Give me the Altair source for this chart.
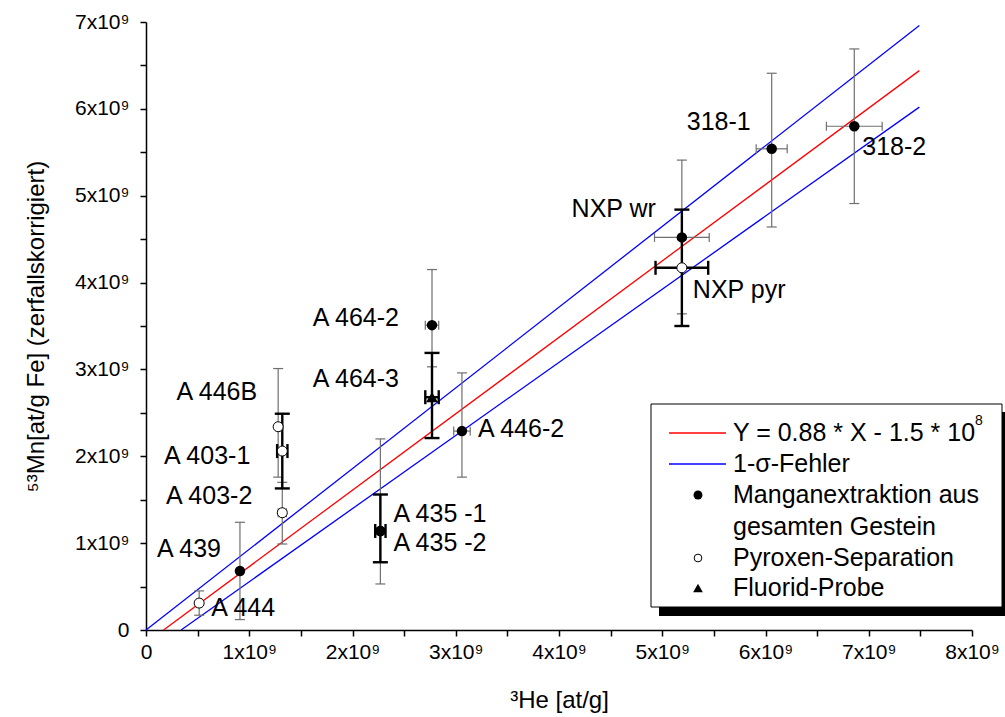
import altair as alt
import pandas as pd

# --- measured samples (values in units of 10^9 at/g) ---
samples = ["A 444", "A 439", "A 446B", "A 403-1", "A 403-2", "A 464-2", "A 464-3",
           "A 446-2", "A 435 -1", "A 435 -2", "NXP wr", "NXP pyr", "318-1", "318-2"]
probe = ["Pyroxen", "Gestein", "Pyroxen", "Pyroxen", "Pyroxen", "Gestein", "Fluorid",
         "Gestein", "Gestein", "Gestein", "Gestein", "Pyroxen", "Gestein", "Gestein"]
he3 = [0.515, 0.91, 1.28, 1.32, 1.32, 2.77, 2.77, 3.06, 2.27, 2.27, 5.19, 5.19, 6.06, 6.86]
he3_err = [0.025, 0.0, 0.02, 0.05, 0.04, 0.065, 0.065, 0.08, 0.05, 0.0, 0.265, 0.255, 0.15, 0.27]
mn53 = [0.31, 0.68, 2.34, 2.06, 1.35, 3.51, 2.68, 2.29, 1.14, 1.14, 4.52, 4.17, 5.54, 5.80]
mn53_lo = [0.17, 0.12, 1.76, 1.63, 0.99, 3.03, 2.21, 1.76, 0.78, 0.53, 3.64, 3.50, 4.64, 4.91]
mn53_hi = [0.45, 1.24, 3.01, 2.49, 1.70, 4.15, 3.19, 2.96, 1.56, 2.20, 5.41, 4.84, 6.41, 6.69]
# error set: 1 = bold bars, 2 = thin bars
err_set = [2, 2, 2, 1, 2, 2, 1, 2, 1, 2, 2, 1, 2, 2]

# --- regression line and 1-sigma band (end points, 10^9 at/g) ---
fit_names = ["fit", "sigma_oben", "sigma_unten"]
fit_x0 = [0.17, 0.0, 0.34]
fit_y0 = [0.0, 0.0, 0.0]
fit_x1 = [7.49, 7.49, 7.49]
fit_y1 = [6.44, 6.96, 6.02]

legend_lines = ["Y = 0.88 * X - 1.5 * 10", "1-\u03c3-Fehler"]
legend_points = ["Manganextraktion aus", "gesamten Gestein", "Pyroxen-Separation", "Fluorid-Probe"]

E9 = 1e9
FONT = "Liberation Sans"
TXT = 25

df = pd.DataFrame({
    "sample": samples, "probe": probe,
    "x": [v * E9 for v in he3],
    "xlo": [(v - e) * E9 for v, e in zip(he3, he3_err)],
    "xhi": [(v + e) * E9 for v, e in zip(he3, he3_err)],
    "xerr": he3_err,
    "y": [v * E9 for v in mn53],
    "ylo": [v * E9 for v in mn53_lo],
    "yhi": [v * E9 for v in mn53_hi],
    "set": err_set,
})

fit_rows = []
for n, a, b, c, d in zip(fit_names, fit_x0, fit_y0, fit_x1, fit_y1):
    fit_rows.append({"line": n, "x": a * E9, "y": b * E9})
    fit_rows.append({"line": n, "x": c * E9, "y": d * E9})
fit_df = pd.DataFrame(fit_rows)

xs = alt.Scale(domain=[0, 8 * E9], nice=False, zero=False)
ys = alt.Scale(domain=[0, 7 * E9], nice=False, zero=False)

label_expr = ("datum.value == 0 ? '0' : (datum.value % 1000000000 == 0 ? "
              "format(datum.value / 1000000000, 'd') + 'x10\u2079' : '')")

common_axis = dict(
    labelExpr=label_expr, grid=False, domainColor="black", domainWidth=1.5,
    tickColor="black", tickWidth=1.5, tickSize=6, labelFont=FONT, labelFontSize=21,
    labelColor="black", labelOverlap=False, labelFlush=False,
    titleFont=FONT, titleFontSize=24, titleFontWeight="normal", titleColor="black",
)
xaxis = alt.Axis(values=[i * 0.5 * E9 for i in range(17)], title="\u00b3He [at/g]",
                 labelPadding=5, titlePadding=26, **common_axis)
yaxis = alt.Axis(values=[i * 0.5 * E9 for i in range(15)],
                 title="\u2075\u00b3Mn[at/g Fe] (zerfallskorrigiert)",
                 labelPadding=11, titlePadding=26, **common_axis)


def X(field):
    return alt.X(field, type="quantitative", scale=xs, axis=xaxis)


def Y(field):
    return alt.Y(field, type="quantitative", scale=ys, axis=yaxis)


layers = []

# regression line and 1-sigma lines
layers.append(
    alt.Chart(fit_df).mark_line(strokeWidth=1.3).encode(
        x=X("x"), y=Y("y"),
        color=alt.Color("line:N", legend=None,
                        scale=alt.Scale(domain=fit_names, range=["#ff0000", "#0000ff", "#0000ff"])),
        detail="line:N",
    )
)

# error bars: thin (set 2) first, bold (set 1) on top
styles = {2: dict(color="#6f6f6f", w=1.2, cap=10), 1: dict(color="black", w=2.4, cap=15)}
for s in (2, 1):
    st = styles[s]
    sub = df[df["set"] == s]
    subx = sub[sub["xerr"] > 0]
    layers.append(alt.Chart(sub).mark_rule(color=st["color"], strokeWidth=st["w"]).encode(
        x=X("x"), y=Y("ylo"), y2="yhi"))
    for f in ("ylo", "yhi"):
        layers.append(alt.Chart(sub).mark_tick(
            orient="horizontal", color=st["color"], size=st["cap"], thickness=st["w"], opacity=1
        ).encode(x=X("x"), y=Y(f)))
    layers.append(alt.Chart(subx).mark_rule(color=st["color"], strokeWidth=st["w"]).encode(
        x=X("xlo"), x2="xhi", y=Y("y")))
    for f in ("xlo", "xhi"):
        layers.append(alt.Chart(subx).mark_tick(
            orient="vertical", color=st["color"], size=st["cap"] - 1, thickness=st["w"], opacity=1
        ).encode(x=X(f), y=Y("y")))

# data points
layers.append(alt.Chart(df[df["probe"] == "Gestein"]).mark_point(
    shape="circle", filled=True, color="black", size=110, opacity=1).encode(x=X("x"), y=Y("y")))
layers.append(alt.Chart(df[df["probe"] == "Pyroxen"]).mark_point(
    shape="circle", filled=True, fill="white", stroke="black", strokeWidth=1, size=100, opacity=1
).encode(x=X("x"), y=Y("y")))
layers.append(alt.Chart(df[df["probe"] == "Fluorid"]).mark_point(
    shape="triangle-up", filled=True, color="black", size=140, opacity=1).encode(x=X("x"), y=Y("y")))

# sample labels: (align, dx, dy) relative to the point
label_pos = {
    "A 444": ("left", 12, 5), "A 439": ("right", -19, -22), "A 446B": ("right", -21, -35),
    "A 403-1": ("right", -32, 5), "A 403-2": ("right", -30, -17), "A 464-2": ("right", -33, -7),
    "A 464-3": ("right", -33, -18), "A 446-2": ("left", 16, -2), "A 435 -1": ("left", 13, -17),
    "A 435 -2": ("left", 13, 12), "NXP wr": ("right", -26, -28), "NXP pyr": ("left", 11, 22),
    "318-1": ("right", -21, -27), "318-2": ("left", 8, 21),
}
for name in samples:
    al, dx, dy = label_pos[name]
    layers.append(alt.Chart(df[df["sample"] == name]).mark_text(
        align=al, baseline="middle", dx=dx, dy=dy, font=FONT, fontSize=TXT, color="black"
    ).encode(x=X("x"), y=Y("y"), text="sample:N"))

# legend box with drop shadow (plot-area pixel coordinates)
one = pd.DataFrame({"k": [0]})
layers.append(alt.Chart(one).mark_rect(color="black").encode(
    x=alt.value(513), x2=alt.value(866), y=alt.value(390), y2=alt.value(594)))
layers.append(alt.Chart(one).mark_rect(fill="white", stroke="black", strokeWidth=1).encode(
    x=alt.value(505), x2=alt.value(856), y=alt.value(382), y2=alt.value(585)))

line_cols = ["#ff0000", "#0000ff"]
for i, (txt, col) in enumerate(zip(legend_lines, line_cols)):
    yy = 411 + 31 * i
    layers.append(alt.Chart(one).mark_rule(color=col, strokeWidth=1.5).encode(
        x=alt.value(523), x2=alt.value(580), y=alt.value(yy)))
    layers.append(alt.Chart(pd.DataFrame({"t": [txt]})).mark_text(
        align="left", baseline="middle", font=FONT, fontSize=TXT, color="black"
    ).encode(x=alt.value(587), y=alt.value(yy), text="t:N"))
layers.append(alt.Chart(pd.DataFrame({"t": ["8"]})).mark_text(
    align="left", baseline="middle", font=FONT, fontSize=14, color="black"
).encode(x=alt.value(829), y=alt.value(399), text="t:N"))

point_rows = [473, 505, 536, 566]
for txt, yy in zip(legend_points, point_rows):
    layers.append(alt.Chart(pd.DataFrame({"t": [txt]})).mark_text(
        align="left", baseline="middle", font=FONT, fontSize=TXT, color="black"
    ).encode(x=alt.value(587), y=alt.value(yy), text="t:N"))
layers.append(alt.Chart(one).mark_point(shape="circle", filled=True, color="black", size=80, opacity=1)
              .encode(x=alt.value(552), y=alt.value(473)))
layers.append(alt.Chart(one).mark_point(shape="circle", filled=True, fill="white", stroke="black",
                                        strokeWidth=1, size=60, opacity=1)
              .encode(x=alt.value(552), y=alt.value(536)))
layers.append(alt.Chart(one).mark_point(shape="triangle-up", filled=True, color="black", size=95, opacity=1)
              .encode(x=alt.value(552), y=alt.value(566)))

chart = alt.layer(*layers).properties(
    width=826, height=608,
    padding={"left": 146, "top": 22, "right": 33, "bottom": 87},
    autosize=alt.AutoSizeParams(type="none"),
    background="white",
).configure_view(stroke=None)

chart.save("out.html", embed_options={"renderer": "svg", "actions": False})
